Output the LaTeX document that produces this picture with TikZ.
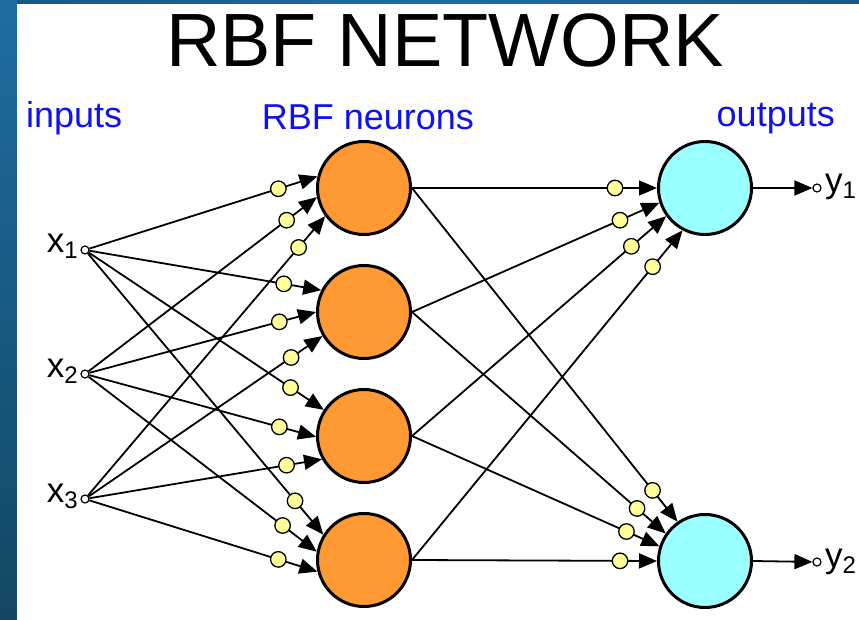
\documentclass[tikz,border=0pt]{standalone}
\usepackage{fontspec}
\setmainfont{Liberation Sans}
\usetikzlibrary{arrows.meta,calc}
\definecolor{bgblue}{RGB}{26,88,128}
\definecolor{bgtop}{RGB}{30,110,160}
\definecolor{bgbot}{RGB}{18,70,100}
\definecolor{neuron}{RGB}{255,153,51}
\definecolor{outcol}{RGB}{153,255,255}
\definecolor{wcol}{RGB}{255,255,153}
\definecolor{lblue}{RGB}{16,16,240}
\newcommand\varlab[2]{{\fontsize{35}{35}\selectfont #1}\raisebox{-6pt}{\fontsize{24}{24}\selectfont #2}}
\begin{document}
\begin{tikzpicture}[x=1pt,y=-1pt,
  hid/.style={circle,draw=black,line width=3pt,fill=neuron,minimum size=93pt,inner sep=0pt},
  outn/.style={circle,draw=black,line width=3pt,fill=outcol,minimum size=93pt,inner sep=0pt},
  inp/.style={circle,draw=black,line width=1.2pt,fill=white,minimum size=8pt,inner sep=0pt},
  term/.style={circle,draw=black,line width=1.2pt,fill=white,minimum size=8pt,inner sep=0pt},
  wdot/.style={circle,draw=black,line width=1.3pt,fill=wcol,minimum size=15.5pt,inner sep=0pt},
  conn/.style={line width=1.8pt,-{Triangle[length=18pt,width=15pt]}},
  lbl/.style={text=lblue,font=\fontsize{36}{36}\selectfont,inner sep=0pt},
  vlab/.style={inner sep=0pt}]
\useasboundingbox (0,0) rectangle (859,620);
\fill[bgblue] (0,0) rectangle (859,620);
\shade[top color=bgtop,bottom color=bgbot] (0,0) rectangle (17,620);
\shade[left color=bgblue,right color=bgblue,middle color=bgtop] (17,0) rectangle (859,4);
\fill[white] (17,4) rectangle (859,620);

% titles
\node[anchor=base,inner sep=0pt,font=\fontsize{75.5}{75.5}\selectfont] (title) at (445,67) {RBF NETWORK};
\node[lbl,anchor=base west] (linp) at (26,128) {inputs};
\node[lbl,anchor=base] (lrbf) at (368,130) {RBF neurons};
\node[lbl,anchor=base east] (lout) at (835,127) {outputs};

% neurons
\node[hid] (r1) at (364,188) {};
\node[hid] (r2) at (364,312) {};
\node[hid] (r3) at (364,436) {};
\node[hid] (r4) at (364,560) {};
\node[outn] (o1) at (705,188) {};
\node[outn] (o2) at (705,561) {};

% inputs
\node[inp] (x1) at (85,250) {};
\node[inp] (x2) at (85,374) {};
\node[inp] (x3) at (85,499) {};
\node[vlab,anchor=base east] (lx1) at (78,253) {\varlab{x}{1}};
\node[vlab,anchor=base east] (lx2) at (78,377) {\varlab{x}{2}};
\node[vlab,anchor=base east] (lx3) at (78,502) {\varlab{x}{3}};

% outputs terminals
\node[term] (t1) at (817,188) {};
\node[term] (t2) at (817,562) {};
\node[vlab,anchor=base west] (ly1) at (825,193) {\varlab{y}{1}};
\node[vlab,anchor=base west] (ly2) at (825,567) {\varlab{y}{2}};
\draw[conn] (o1.east) -- (t1);
\draw[conn] (o2.east) -- (t2);

% input -> rbf connections
\foreach \s/\t/\a in {x1/r1/166, x2/r1/191, x3/r1/216,
                      x1/r2/153, x2/r2/180, x3/r2/210,
                      x1/r3/147, x2/r3/181, x3/r3/209,
                      x1/r4/148, x2/r4/170, x3/r4/194}
  {\draw[conn] (\s) -- (\t.\a);}
% rbf -> output connections
\foreach \s/\t/\a in {r1/o1/180, r2/o1/198, r3/o1/216, r4/o1/242,
                      r1/o2/125, r2/o2/145, r3/o2/162, r4/o2/180}
  {\draw[conn] (\s.east) -- (\t.\a);}

% weight dots
\foreach \s/\t/\a/\d in {x1/r1/166/41, x2/r1/191/38, x3/r1/216/41,
                         x1/r2/153/38, x2/r2/180/38, x3/r2/210/38,
                         x1/r3/147/40, x2/r3/181/38, x3/r3/209/36,
                         x1/r4/148/44, x2/r4/170/43, x3/r4/194/41}
  {\node[wdot] at ($(\t.\a)!\d pt!(\s)$) {};}
\foreach \s/\t/\a/\d in {r1/o1/180/42, r2/o1/198/43, r3/o1/216/46, r4/o1/242/47,
                         r1/o2/125/40, r2/o2/145/38, r3/o2/162/36, r4/o2/180/37}
  {\node[wdot] at ($(\t.\a)!\d pt!(\s.east)$) {};}
\end{tikzpicture}
\end{document}
